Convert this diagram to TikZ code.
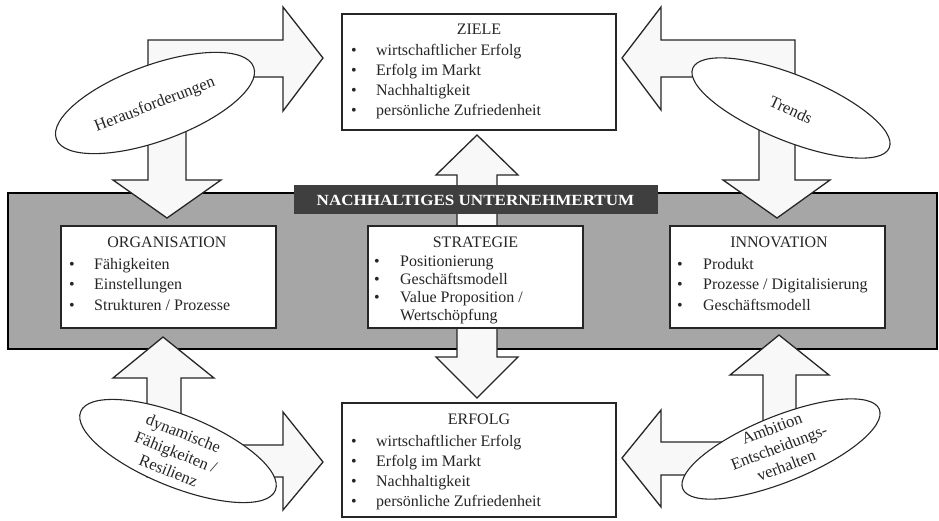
\documentclass[tikz,border=0pt]{standalone}
\usepackage{fontspec}
\setmainfont{Liberation Serif}
\newfontfamily\labelfont[FakeStretch=1.1]{Liberation Serif}
\usetikzlibrary{shapes.geometric}
\definecolor{bandgray}{HTML}{A6A6A6}
\definecolor{labelgray}{HTML}{3F3F3F}
\definecolor{arrowfill}{HTML}{F8F8F8}
\definecolor{ink}{HTML}{262626}
\begin{document}
\begin{tikzpicture}[x=1pt,y=-1pt,
  box/.style={draw=ink, line width=1.6pt, fill=white, rectangle, inner sep=0pt},
  blockarrow/.style={draw=ink, line width=1.3pt, fill=arrowfill, line join=miter},
  bubble/.style={draw=ink, line width=1.1pt, fill=white, ellipse, inner sep=0pt},
  boxfont/.style={font=\fontsize{16}{20}\selectfont, text=ink, inner sep=0pt},
  bubblefont/.style={font=\fontsize{16.5}{20}\selectfont, text=ink, inner sep=0pt, align=center},
]
\useasboundingbox[fill=white] (0,0) rectangle (939,520);

% band
\draw[fill=bandgray, draw=black, line width=2pt] (8,193) rectangle (937,349);

% block arrows
\draw[blockarrow] (148,40) -- (283,40) -- (283,7) -- (323,58) -- (283,111) -- (283,77) -- (186,77) -- (186,180) -- (221,180) -- (167,218) -- (113,180) -- (148,180) -- cycle;
\draw[blockarrow] (795,40) -- (661,40) -- (661,7) -- (622,58) -- (661,110) -- (661,77) -- (759,77) -- (759,180) -- (723,180) -- (777,218) -- (830,180) -- (795,180) -- cycle;
\draw[blockarrow] (147,477) -- (147,378) -- (113,378) -- (163,337) -- (214,378) -- (181,378) -- (181,445) -- (283,445) -- (283,412) -- (323,462) -- (283,510) -- (283,477) -- cycle;
\draw[blockarrow] (796,475) -- (796,375) -- (829,375) -- (779,335) -- (730,375) -- (763,375) -- (763,442) -- (661,442) -- (661,410) -- (622,458) -- (661,507) -- (661,475) -- cycle;
\draw[blockarrow] (457,175) -- (436,175) -- (477,135) -- (518,175) -- (497,175) -- (497,357) -- (518,357) -- (477,398) -- (436,357) -- (457,357) -- cycle;

% label
\node[fill=labelgray, draw=labelgray, minimum width=363pt, minimum height=28pt, inner sep=0pt] (label) at (475.5,199) {};
\node[text=white, inner sep=0pt, font=\labelfont\bfseries\fontsize{15.5}{18}\selectfont] (labeltext) at (475.5,200) {NACHHALTIGES UNTERNEHMERTUM};

% boxes
\node[box, minimum width=274pt, minimum height=116pt] (ziele) at (479,72) {};
\node[boxfont, anchor=base] (zieleT) at (479,34) {ZIELE};
\foreach \t [count=\i] in {wirtschaftlicher Erfolg, Erfolg im Markt, Nachhaltigkeit, persönliche Zufriedenheit}
  \node[boxfont, anchor=base west] (zl\i) at (351,35+20*\i) {\makebox[25pt][l]{\textbullet}\t};

\node[box, minimum width=274pt, minimum height=114pt] (erfolg) at (479,460) {};
\node[boxfont, anchor=base] (erfolgT) at (479,424) {ERFOLG};
\foreach \t [count=\i] in {wirtschaftlicher Erfolg, Erfolg im Markt, Nachhaltigkeit, persönliche Zufriedenheit}
  \node[boxfont, anchor=base west] (el\i) at (351,426+20*\i) {\makebox[25pt][l]{\textbullet}\t};

\node[box, minimum width=215pt, minimum height=102pt] (org) at (168.5,277) {};
\node[boxfont, anchor=base] (orgT) at (167,247) {ORGANISATION};
\foreach \t [count=\i] in {Fähigkeiten, Einstellungen, Strukturen / Prozesse}
  \node[boxfont, anchor=base west] (ol\i) at (69,248.5+20.5*\i) {\makebox[25pt][l]{\textbullet}\t};

\node[box, minimum width=215pt, minimum height=102pt] (strat) at (475.5,277) {};
\node[boxfont, anchor=base] (stratT) at (475.5,247) {STRATEGIE};
\foreach \t [count=\i] in {Positionierung, Geschäftsmodell, Value Proposition /, \hspace*{0pt}}
  \node[boxfont, anchor=base west] (sl\i) at (374,248+18*\i) {\makebox[26pt][l]{\ifnum\i<4 \textbullet\fi}\t};
\node[boxfont, anchor=base west] (sl5) at (400,320) {Wertschöpfung};

\node[box, minimum width=215pt, minimum height=102pt] (innov) at (777.5,277) {};
\node[boxfont, anchor=base] (innovT) at (779,247) {INNOVATION};
\foreach \t [count=\i] in {Produkt, Prozesse / Digitalisierung, Geschäftsmodell}
  \node[boxfont, anchor=base west] (il\i) at (677,248.5+20.5*\i) {\makebox[26pt][l]{\textbullet}\t};

% ellipses
\node[bubble, minimum width=210pt, minimum height=76pt, rotate=20] (e1) at (155,103) {};
\node[bubblefont, rotate=21] (e1t) at (155,105) {Herausforderungen};

\node[bubble, minimum width=212pt, minimum height=66pt, rotate=-22] (e2) at (791,108) {};
\node[bubblefont, rotate=-25] (e2t) at (791,110) {Trends};

\node[bubble, minimum width=210pt, minimum height=72pt, rotate=-22] (e3) at (178,451) {};
\node[bubblefont, rotate=-22] (e3t) at (176,452) {dynamische\\Fähigkeiten /\\Resilienz};

\node[bubble, minimum width=212pt, minimum height=66pt, rotate=22] (e4) at (781,449) {};
\node[bubblefont, rotate=21] (e4t) at (779,447) {Ambition\\Entscheidungs-\\verhalten};
\end{tikzpicture}
\end{document}
